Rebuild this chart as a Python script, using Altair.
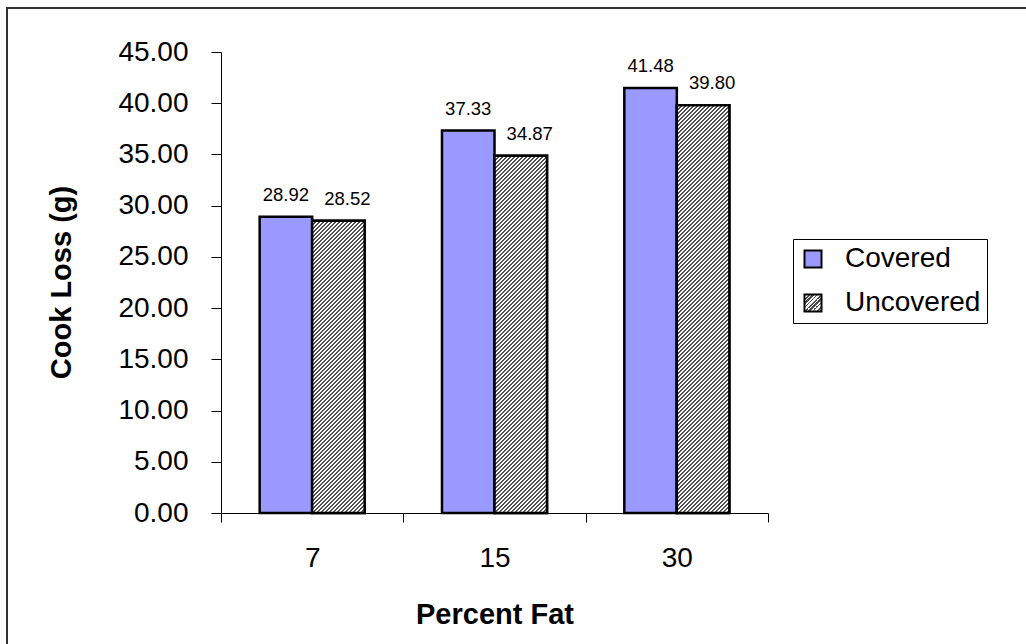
import altair as alt
import pandas as pd

# ---- data -------------------------------------------------------------
fat_levels = ["7", "15", "30"]
series_names = ["Covered", "Uncovered"]
covered = [28.92, 37.33, 41.48]
uncovered = [28.52, 34.87, 39.80]
y_ticks = [0, 5, 10, 15, 20, 25, 30, 35, 40, 45]

rows = []
for i, fat in enumerate(fat_levels):
    rows.append({"Fat": fat, "Series": "Covered", "Loss": covered[i]})
    rows.append({"Fat": fat, "Series": "Uncovered", "Loss": uncovered[i]})
df = pd.DataFrame(rows)

# ---- layout / style ---------------------------------------------------
FONT = "Liberation Sans"
PLOT_W, PLOT_H = 547, 461
PAD = {"left": 221, "top": 52, "right": 258, "bottom": 131}

# diagonal hatch built from a striped linear gradient (hard stops)
HATCH_PERIOD = 4          # px between stripes, measured along x
HATCH_SPAN = 600          # px covered by the gradient vector (x + y)
n_stripes = HATCH_SPAN // HATCH_PERIOD
hatch_stops = []
for i in range(n_stripes):
    a = i / n_stripes
    m = (i + 0.5) / n_stripes
    b = (i + 1) / n_stripes
    hatch_stops += [
        {"offset": round(a, 6), "color": "#505050"},
        {"offset": round(m, 6), "color": "#505050"},
        {"offset": round(m, 6), "color": "#ffffff"},
        {"offset": round(b, 6), "color": "#ffffff"},
    ]
stops_param = alt.param(name="hatch_stops", value=hatch_stops)

# gradient vector in bounding-box units chosen so stripes run at 45 deg
# with the same pixel spacing whatever the bar height
bw = "bandwidth('xOffset')"
bh = "(scale('y', 0) - scale('y', datum.Loss))"
den = f"({bw}*{bw} + {bh}*{bh})"
bar_hatch = (
    "{gradient: 'linear', x1: 0, y1: 0, "
    f"x2: {HATCH_SPAN}*{bw}/{den}, y2: {HATCH_SPAN}*{bh}/{den}, "
    "stops: hatch_stops}"
)
SYM = 17
sym_k = HATCH_SPAN * SYM / (2 * SYM * SYM)
legend_hatch = (
    "{gradient: 'linear', x1: 0, y1: 0, "
    f"x2: {sym_k}, y2: {sym_k}, stops: hatch_stops}}"
)

# ---- encodings ----------------------------------------------------------
x_enc = alt.X(
    "Fat:N",
    sort=fat_levels,
    scale=alt.Scale(paddingInner=0, paddingOuter=0),
    axis=alt.Axis(
        title="Percent Fat",
        labelAngle=0,
        tickBand="extent",
        tickSize=9,
        labelPadding=22,
        titleBaseline="alphabetic",
        titleY=110,
    ),
)
xo_enc = alt.XOffset(
    "Series:N",
    sort=series_names,
    scale=alt.Scale(domain=series_names, paddingInner=0, paddingOuter=0.736),
)
y_enc = alt.Y(
    "Loss:Q",
    scale=alt.Scale(domain=[0, 45], nice=False),
    axis=alt.Axis(
        title="Cook Loss (g)",
        values=y_ticks,
        format=".2f",
        tickSize=10,
        labelPadding=23,
        titleAngle=270,
        titleAlign="center",
        titleBaseline="alphabetic",
        titleX=-151,
        titleY=230,
    ),
)

base = alt.Chart(df)

bars = base.mark_bar(stroke="black", strokeWidth=2.5).encode(
    x=x_enc,
    xOffset=xo_enc,
    y=y_enc,
    color=alt.Color(
        "Series:N",
        scale=alt.Scale(domain=series_names,
                        range=["#9999FF", alt.ExprRef(legend_hatch)]),
        legend=alt.Legend(
            title=None,
            orient="none",
            legendX=572,
            legendY=187,
            strokeColor="black",
            padding=6,
            rowPadding=16,
            symbolType="square",
            symbolSize=SYM * SYM,
            symbolStrokeColor="black",
            symbolStrokeWidth=2,
            labelFont=FONT,
            labelFontSize=28,
            labelColor="black",
            labelOffset=18,
        ),
    ),
)

hatch = (
    base.transform_filter(alt.datum.Series == "Uncovered")
    .mark_bar(stroke="black", strokeWidth=2.5)
    .encode(x=x_enc, xOffset=xo_enc, y=y_enc,
            fill=alt.value(alt.ExprRef(bar_hatch)))
)

def value_labels(series, dx):
    return (
        base.transform_filter(alt.datum.Series == series)
        .mark_text(font=FONT, fontSize=18.5, color="black",
                   baseline="alphabetic", dy=-16, dx=dx)
        .encode(x=x_enc, xOffset=xo_enc, y=y_enc,
                text=alt.Text("Loss:Q", format=".2f"))
    )

labels_cov = value_labels("Covered", 0)
labels_unc = value_labels("Uncovered", 9)

# outer frame of the chart (top and left edges)
one = alt.Data(values=[{"k": 1}])
frame_top = alt.Chart(one).mark_rule(color="#333333", strokeWidth=2).encode(
    x=alt.value(-215), x2=alt.value(805), y=alt.value(-44)
)
frame_left = alt.Chart(one).mark_rule(color="#333333", strokeWidth=2).encode(
    x=alt.value(-214), y=alt.value(-45), y2=alt.value(592)
)

chart = (
    alt.layer(frame_top, frame_left, bars, hatch, labels_cov, labels_unc)
    .add_params(stops_param)
    .properties(
        width=PLOT_W,
        height=PLOT_H,
        padding=PAD,
        autosize=alt.AutoSizeParams(type="none"),
        background="white",
    )
    .configure_view(stroke=None)
    .configure_axis(
        grid=False,
        domainColor="black",
        domainWidth=1,
        tickColor="black",
        tickWidth=1,
        labelColor="black",
        labelFont=FONT,
        labelFontSize=28,
        titleColor="black",
        titleFont=FONT,
        titleFontSize=29,
        titleFontWeight="bold",
    )
)

chart.save("out.html", embed_options={"renderer": "svg", "actions": False})
